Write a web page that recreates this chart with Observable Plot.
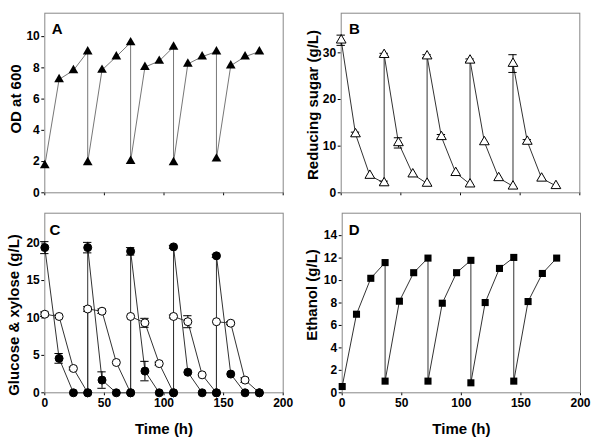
<!DOCTYPE html>
<html>
<head>
<meta charset="utf-8">
<script src="https://cdn.jsdelivr.net/npm/d3@7"></script>
<script src="https://cdn.jsdelivr.net/npm/@observablehq/plot@0.6"></script>
<style>
  html, body { margin: 0; padding: 0; background: #fff; }
  #wrap { position: relative; width: 606px; height: 440px; overflow: hidden; background: #fff; }
  #wrap svg { position: absolute; overflow: visible; }
</style>
</head>
<body>
<div id="wrap"></div>
<script>
// ---- data ----
const time = [0, 12, 24, 36, 36, 48, 60, 72, 72, 84, 96, 108, 108, 120, 132, 144, 144, 156, 168, 180];
const od = [1.75, 7.26, 7.84, 9.04, 1.95, 7.86, 8.72, 9.62, 2.03, 8.05, 8.44, 9.34, 1.95, 8.25, 8.72, 9.04, 2.18, 8.14, 8.72, 9.04];
const sugar = [32.7, 12.6, 3.7, 2.1, 29.6, 10.7, 4.0, 2.0, 29.3, 12.0, 4.3, 1.85, 28.4, 10.9, 3.2, 1.4, 27.7, 11.0, 3.1, 1.5];
const sugarErr = [1.1, 0.4, 0, 0.4, 0.3, 1.1, 0, 0, 0.3, 0.5, 0, 0, 0.3, 0, 0, 0, 1.9, 0.4, 0, 0];
const glucose = [19.4, 4.6, 0, 0, 19.4, 1.7, 0, 0, 18.9, 2.9, 0, 0, 19.5, 2.75, 0, 0, 18.3, 2.5, 0, 0];
const glucoseErr = [0.8, 0.65, 0, 0, 0.7, 1.1, 0, 0, 0.5, 1.3, 0, 0, 0.2, 0, 0, 0, 0.2, 0, 0, 0];
const xylose = [10.5, 10.2, 3.25, 0, 11.2, 10.9, 4.05, 0, 10.2, 9.35, 3.9, 0, 10.2, 9.5, 2.4, 0, 9.5, 9.3, 1.7, 0];
const xyloseErr = [0.3, 0.2, 0.2, 0, 0.3, 0.3, 0, 0, 0, 0.6, 0.2, 0, 0.2, 0.8, 0, 0, 0, 0.2, 0.3, 0];
const ethanol = [0.56, 7.0, 10.2, 11.6, 1.04, 8.16, 10.7, 12.0, 1.04, 7.98, 10.7, 11.8, 0.89, 8.04, 11.08, 12.06, 1.04, 8.13, 10.63, 12.0];

const xTicks = [0, 50, 100, 150, 200];
const xLabel = "Time (h)";
const panels = [
  {letter: "A", yLabel: "OD at 600", yDomain: [0, 11.5], yTicks: [0, 2, 4, 6, 8, 10]},
  {letter: "B", yLabel: "Reducing sugar (g/L)", yDomain: [0, 38.5], yTicks: [0, 10, 20, 30]},
  {letter: "C", yLabel: "Glucose & xylose (g/L)", yDomain: [0, 24], yTicks: [0, 5, 10, 15, 20]},
  {letter: "D", yLabel: "Ethanol (g/L)", yDomain: [0, 16], yTicks: [0, 2, 4, 6, 8, 10, 12, 14]}
];

const series = (vals, errs) => time.map((t, i) => ({t, v: vals[i], e: errs ? errs[i] : 0}));
const errMarks = (data) => {
  const d = data.filter(p => p.e > 0);
  return [
    Plot.ruleX(d, {x: "t", y1: p => p.v - p.e, y2: p => p.v + p.e, stroke: "#000", strokeWidth: 1}),
    Plot.ruleY(d, {y: p => p.v + p.e, x1: p => p.t - 3.5, x2: p => p.t + 3.5, stroke: "#000", strokeWidth: 1}),
    Plot.ruleY(d, {y: p => p.v - p.e, x1: p => p.t - 3.5, x2: p => p.t + 3.5, stroke: "#000", strokeWidth: 1})
  ];
};

const FONT = "'Liberation Sans', Arial, Helvetica, sans-serif";
const layouts = [
  {left: 0, top: 0, width: 303, height: 205, ml: 44.3, mr: 20.3, mt: 12.7, mb: 12.7, showX: false, ldx: 12.4, ldy: 16.3, tdx: -29, tdy: -4},
  {left: 300, top: 0, width: 306, height: 205, ml: 40.7, mr: 26.7, mt: 12.7, mb: 12.7, showX: false, ldx: 13.3, ldy: 16.3, tdx: -28, tdy: 2},
  {left: 0, top: 205, width: 303, height: 235, ml: 44.3, mr: 20.3, mt: 7.7, mb: 47.7, showX: true, ldx: 10, ldy: 17, tdx: -31, tdy: 12},
  {left: 300, top: 205, width: 306, height: 235, ml: 41.7, mr: 26, mt: 7.7, mb: 47.7, showX: true, ldx: 12, ldy: 17, tdx: -30, tdy: -8}
];

function dataMarks(idx) {
  if (idx === 0) {
    const d = series(od);
    return [
      Plot.line(d, {x: "t", y: "v", stroke: "#777", strokeWidth: 1}),
      Plot.dot(d, {x: "t", y: "v", symbol: "triangle", r: 3.6, fill: "#000", stroke: "none"})
    ];
  }
  if (idx === 1) {
    const d = series(sugar, sugarErr);
    return [
      Plot.line(d, {x: "t", y: "v", stroke: "#333", strokeWidth: 1}),
      ...errMarks(d),
      Plot.dot(d, {x: "t", y: "v", symbol: "triangle", r: 3.6, fill: "#fff", stroke: "#000", strokeWidth: 1})
    ];
  }
  if (idx === 2) {
    const g = series(glucose, glucoseErr);
    const x = series(xylose, xyloseErr);
    return [
      Plot.line(x, {x: "t", y: "v", stroke: "#333", strokeWidth: 1}),
      Plot.line(g, {x: "t", y: "v", stroke: "#333", strokeWidth: 1}),
      ...errMarks(x),
      ...errMarks(g),
      Plot.dot(x, {x: "t", y: "v", r: 4, fill: "#fff", stroke: "#000", strokeWidth: 1}),
      Plot.dot(g, {x: "t", y: "v", r: 4, fill: "#000", stroke: "#000", strokeWidth: 1})
    ];
  }
  const d = series(ethanol);
  return [
    Plot.line(d, {x: "t", y: "v", stroke: "#333", strokeWidth: 1}),
    Plot.dot(d, {x: "t", y: "v", symbol: "square", r: 4, fill: "#000", stroke: "none"})
  ];
}

const wrap = document.getElementById("wrap");
panels.forEach((p, i) => {
  const L = layouts[i];
  const chart = Plot.plot({
    width: L.width,
    height: L.height,
    marginLeft: L.ml, marginRight: L.mr, marginTop: L.mt, marginBottom: L.mb,
    style: {fontFamily: FONT, fontWeight: "bold", fontSize: "12px", background: "transparent", color: "#000"},
    x: {domain: [0, 200], ticks: xTicks, tickSize: 3, tickPadding: 3, label: null,
        tickFormat: L.showX ? (d => String(d)) : (() => "")},
    y: {domain: p.yDomain, ticks: p.yTicks, tickSize: 3, tickPadding: 2, label: null},
    marks: [
      Plot.frame({stroke: "#888", strokeWidth: 1}),
      ...dataMarks(i),
      Plot.text([p.letter], {frameAnchor: "top-left", textAnchor: "middle", lineAnchor: "middle", dx: L.ldx, dy: L.ldy, text: d => d, fontSize: 15, fontWeight: "bold", fill: "#000"}),
      Plot.text([p.yLabel], {frameAnchor: "left", textAnchor: "middle", lineAnchor: "middle", rotate: -90, dx: L.tdx, dy: L.tdy, text: d => d, fontSize: 15, fontWeight: "bold", fill: "#000"}),
      ...(L.showX ? [Plot.text([xLabel], {frameAnchor: "bottom", textAnchor: "middle", lineAnchor: "middle", dy: 36, text: d => d, fontSize: 15, fontWeight: "bold", fill: "#000"})] : [])
    ]
  });
  chart.style.left = L.left + "px";
  chart.style.top = L.top + "px";
  wrap.appendChild(chart);
});
</script>
</body>
</html>
